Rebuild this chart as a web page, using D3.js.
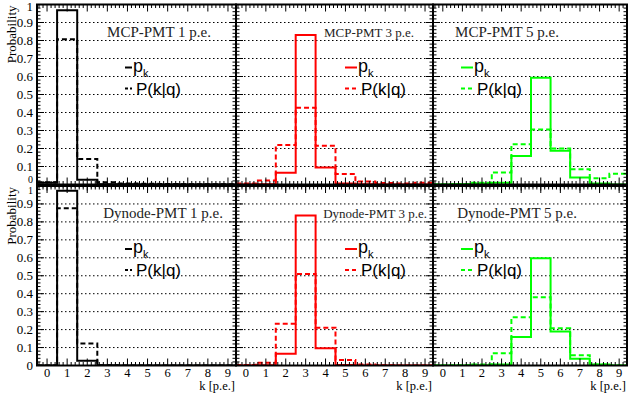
<!DOCTYPE html>
<html>
<head>
<meta charset="utf-8">
<script src="https://cdn.jsdelivr.net/npm/d3@7"></script>
<style>
  body { margin: 0; background: #fff; }
  svg { display: block; }
</style>
</head>
<body>
<div id="chart"></div>
<script>
// DATA
const kValues = [0, 1, 2, 3, 4, 5, 6, 7, 8, 9];
const yTicks = [0, 0.1, 0.2, 0.3, 0.4, 0.5, 0.6, 0.7, 0.8, 0.9, 1];
const yTickLabels = ['0', '0.1', '0.2', '0.3', '0.4', '0.5', '0.6', '0.7', '0.8', '0.9', '1'];
const panelTitles = [
  ['MCP-PMT 1 p.e.', 'MCP-PMT 3 p.e.', 'MCP-PMT 5 p.e.'],
  ['Dynode-PMT 1 p.e.', 'Dynode-PMT 3 p.e.', 'Dynode-PMT 5 p.e.']
];
const seriesColors = ['#000000', '#ff0000', '#00ff00'];

// p_k (solid) and P(k|q) (dashed), k = 0..9
const mcp1Pk  = [0.01, 0.968, 0.026, 0.002, 0.001, 0, 0, 0, 0, 0];
const mcp1Pkq = [0.012, 0.807, 0.142, 0.012, 0.006, 0.004, 0.003, 0.002, 0.001, 0.001];
const mcp3Pk  = [0, 0.002, 0.065, 0.83, 0.094, 0.005, 0.001, 0, 0, 0];
const mcp3Pkq = [0.005, 0.022, 0.22, 0.427, 0.215, 0.059, 0.016, 0.008, 0.006, 0.01];
const mcp5Pk  = [0, 0.001, 0.005, 0.01, 0.159, 0.593, 0.187, 0.039, 0.005, 0];
const mcp5Pkq = [0, 0.003, 0.01, 0.067, 0.224, 0.305, 0.2, 0.085, 0.035, 0.06];
const dyn1Pk  = [0, 0.974, 0.026, 0.001, 0, 0, 0, 0, 0, 0];
const dyn1Pkq = [0, 0.876, 0.122, 0.002, 0, 0, 0, 0, 0, 0];
const dyn3Pk  = [0, 0.001, 0.066, 0.835, 0.096, 0.003, 0, 0, 0, 0];
const dyn3Pkq = [0.003, 0.016, 0.233, 0.51, 0.211, 0.031, 0.005, 0.002, 0, 0];
const dyn5Pk  = [0, 0, 0.002, 0.005, 0.159, 0.597, 0.189, 0.038, 0.005, 0];
const dyn5Pkq = [0, 0.001, 0.005, 0.068, 0.269, 0.38, 0.207, 0.057, 0.006, 0];

const panelData = [
  [[mcp1Pk, mcp1Pkq], [mcp3Pk, mcp3Pkq], [mcp5Pk, mcp5Pkq]],
  [[dyn1Pk, dyn1Pkq], [dyn3Pk, dyn3Pkq], [dyn5Pk, dyn5Pkq]]
];

// LAYOUT
const W = 633, H = 396;
const cols = [[37, 236], [236, 433], [433, 627]];
const rows = [[4.5, 184.5], [186, 365.5]];
const xDomain = [-0.5, 9.4];
const SERIF = '"Liberation Serif", "Times New Roman", "DejaVu Serif", serif';
const SANS = '"Liberation Sans", Arial, "DejaVu Sans", sans-serif';

const svg = d3.select('#chart').append('svg')
  .attr('width', W).attr('height', H);

const defs = svg.append('defs');

rows.forEach((row, r) => {
  cols.forEach((col, c) => {
    const x = d3.scaleLinear().domain(xDomain).range(col);
    const y = d3.scaleLinear().domain([0, 1]).range([row[1], row[0]]);
    const color = seriesColors[c];
    const g = svg.append('g');
    const clipId = 'clip-' + r + '-' + c;
    defs.append('clipPath').attr('id', clipId)
      .append('rect')
      .attr('x', col[0]).attr('y', row[0])
      .attr('width', col[1] - col[0]).attr('height', row[1] - row[0]);

    // horizontal dotted grid
    g.append('g').selectAll('line')
      .data(yTicks.slice(1, -1))
      .enter().append('line')
      .attr('x1', col[0]).attr('x2', col[1])
      .attr('y1', d => y(d)).attr('y2', d => y(d))
      .attr('stroke', '#000').attr('stroke-width', 1)
      .attr('stroke-dasharray', '1.5,2.5');

    // histograms
    const step = function(vals) {
      let p = 'M' + x(-0.5) + ',' + y(vals[0]);
      vals.forEach((v, i) => {
        p += 'L' + x(i - 0.5) + ',' + y(v) + 'L' + x(i + 0.5) + ',' + y(v);
      });
      return p;
    };
    const hg = g.append('g').attr('clip-path', 'url(#' + clipId + ')');
    hg.append('path')
      .attr('d', step(panelData[r][c][1]))
      .attr('fill', 'none').attr('stroke', color).attr('stroke-width', 2)
      .attr('stroke-dasharray', '5,3');
    hg.append('path')
      .attr('d', step(panelData[r][c][0]))
      .attr('fill', 'none').attr('stroke', color).attr('stroke-width', 2);

    // frame
    g.append('rect')
      .attr('x', col[0]).attr('y', row[0])
      .attr('width', col[1] - col[0]).attr('height', row[1] - row[0])
      .attr('fill', 'none').attr('stroke', '#000').attr('stroke-width', 2);

    // y ticks, left and right, inward
    const yMinor = d3.range(0, 1.0001, 0.02);
    [[col[0], 1], [col[1], -1]].forEach(([x0, dir]) => {
      g.append('g').selectAll('line')
        .data(yMinor)
        .enter().append('line')
        .attr('x1', x0).attr('x2', (d, i) => x0 + dir * (i % 5 === 0 ? 7 : 3.5))
        .attr('y1', d => y(d)).attr('y2', d => y(d))
        .attr('stroke', '#000').attr('stroke-width', 1);
    });

    // x ticks top and bottom
    const xMinor = d3.range(-0.4, 9.41, 0.2).map(v => Math.round(v * 10) / 10);
    const isMajor = v => Math.abs(v - Math.round(v)) < 1e-6;
    g.append('g').selectAll('line')
      .data(xMinor)
      .enter().append('line')
      .attr('x1', d => x(d)).attr('x2', d => x(d))
      .attr('y1', row[0]).attr('y2', d => row[0] + (isMajor(d) ? 7 : 3.5))
      .attr('stroke', '#000').attr('stroke-width', 1);
    g.append('g').selectAll('line')
      .data(xMinor)
      .enter().append('line')
      .attr('x1', d => x(d)).attr('x2', d => x(d))
      .attr('y1', d => row[1] + (r === 0 ? (isMajor(d) ? 6 : 3) : 0))
      .attr('y2', d => row[1] - (isMajor(d) ? 7 : 3.5))
      .attr('stroke', '#000').attr('stroke-width', 1);

    // y tick labels on the left column
    if (c === 0) {
      // labels at the shared row boundary are squeezed a bit
      const cramped = d => (r === 0 && d === 0) || (r === 1 && d === 1);
      g.append('g').selectAll('text')
        .data(yTicks)
        .enter().append('text')
        .attr('font-family', SERIF)
        .attr('x', col[0] - 4)
        .attr('y', d => {
          if (r === 0 && d === 0) return 183;
          if (r === 1 && d === 1) return 194.2;
          return Math.max(y(d) + 4.5, row[0] + 6);
        })
        .attr('text-anchor', 'end')
        .attr('font-size', d => cramped(d) ? 10 : 13)
        .text((d, i) => yTickLabels[i]);
      g.append('text')
        .attr('font-family', SERIF)
        .attr('transform', 'translate(16,' + (row[0] + 1) + ') rotate(-90)')
        .attr('text-anchor', 'end')
        .attr('font-size', 13)
        .text('Probability');
    }

    // x tick labels on bottom row
    if (r === 1) {
      g.append('g').selectAll('text')
        .data(kValues)
        .enter().append('text')
        .attr('font-family', SERIF)
        .attr('x', d => x(d))
        .attr('y', row[1] + 11.5)
        .attr('text-anchor', 'middle')
        .attr('font-size', 12.5)
        .text(d => d);
      g.append('text')
        .attr('font-family', SERIF)
        .attr('x', col[1] - 1)
        .attr('y', row[1] + 24)
        .attr('text-anchor', 'end')
        .attr('font-size', 12.5)
        .text('k [p.e.]');
    }

    // title
    const titleSize = c === 1 ? 13 : 15;
    const titleX = [211, 414, 559][c] + (r === 1 ? [12, 13, 18][c] : 0);
    g.append('text')
      .attr('font-family', SERIF)
      .attr('x', titleX)
      .attr('y', row[0] + 32)
      .attr('text-anchor', 'end')
      .attr('font-size', titleSize)
      .attr('fill', '#222')
      .text(panelTitles[r][c]);

    // legend
    const lx = [125, 345, 461][c];
    const lw = c === 0 ? 7 : 12;
    const ly1 = row[0] + 63, ly2 = row[0] + 84;
    g.append('line')
      .attr('x1', lx).attr('x2', lx + lw)
      .attr('y1', ly1).attr('y2', ly1)
      .attr('stroke', color).attr('stroke-width', 2);
    g.append('line')
      .attr('x1', lx).attr('x2', lx + lw)
      .attr('y1', ly2).attr('y2', ly2)
      .attr('stroke', color).attr('stroke-width', 2)
      .attr('stroke-dasharray', c === 0 ? '3,2' : '4,3');
    const t1 = g.append('text')
      .attr('font-family', SANS)
      .attr('x', lx + lw + 1)
      .attr('y', ly1 + 4)
      .attr('font-size', 18);
    t1.append('tspan').text('p');
    t1.append('tspan').attr('dy', 5).attr('font-size', 11).text('k');
    g.append('text')
      .attr('font-family', SANS)
      .attr('x', lx + lw + 4)
      .attr('y', ly2 + 6)
      .attr('font-size', 17)
      .text('P(k|q)');
  });
});
</script>
</body>
</html>
